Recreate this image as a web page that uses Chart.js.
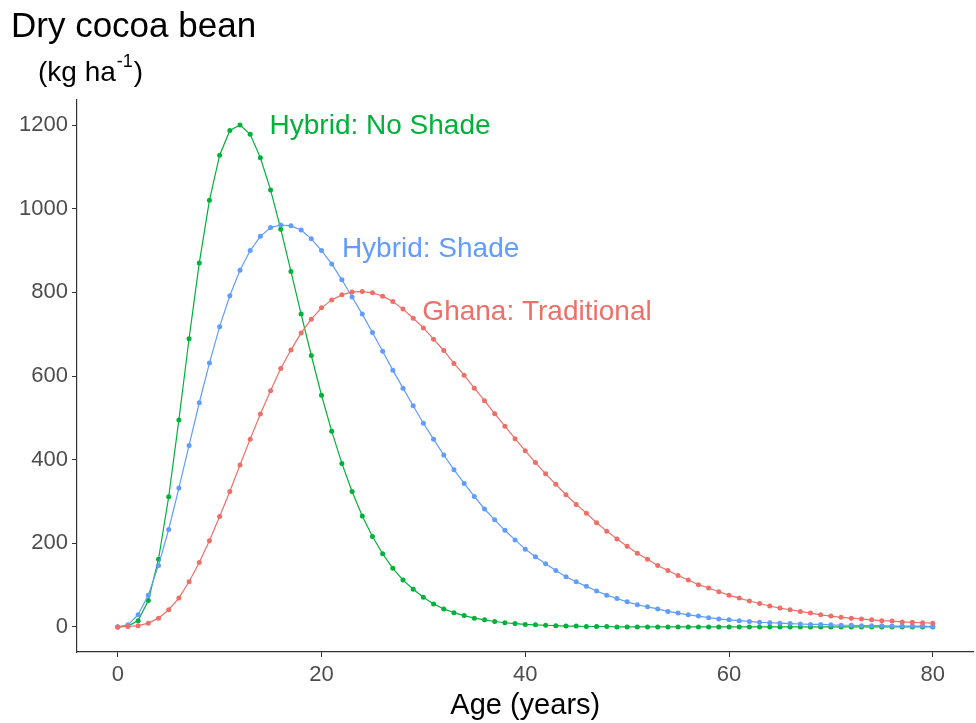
<!DOCTYPE html>
<html>
<head>
<meta charset="utf-8">
<script src="https://cdn.jsdelivr.net/npm/chart.js@4.4.0/dist/chart.umd.min.js"></script>
<style>
  html, body { margin: 0; padding: 0; background: #fff; }
  #wrap { width: 976px; height: 723px; position: relative; }
</style>
</head>
<body>
<div id="wrap"><canvas id="cocoaChrt"></canvas></div>
<script>
(function(){

// ---- age in years (x)
const ageYears = [0,1,2,3,4,5,6,7,8,9,10,11,12,13,14,15,16,17,18,19,20,
  21,22,23,24,25,26,27,28,29,30,31,32,33,34,35,36,37,38,39,40,
  41,42,43,44,45,46,47,48,49,50,51,52,53,54,55,56,57,58,59,60,
  61,62,63,64,65,66,67,68,69,70,71,72,73,74,75,76,77,78,79,80];

// ---- dry cocoa bean yield (kg/ha)
const hybridNoShade = [0,2,15,63,162,311,495,689,870,1020,1128,1187,1200,1178,1122,1045,951,850,748,649,554,
  468,391,324,265,216,175,140,112,90,71,55,43,34,27,21,17,13,10,8,6,
  5,4,3,2,2,1,1,1,0,0,0,0,0,0,0,0,0,0,0,0,
  0,0,0,0,0,0,0,0,0,0,0,0,0,0,0,0,0,0,0,0];

const hybridShade = [0,5,29,76,147,233,332,434,536,631,718,792,853,900,934,955,961,959,949,928,900,
  868,830,789,748,704,659,614,571,529,487,449,411,376,343,312,282,256,231,208,186,
  168,151,135,120,108,97,86,76,68,60,53,48,43,37,33,29,26,22,19,17,
  15,13,11,10,9,8,7,6,6,5,4,4,3,3,3,2,2,2,2,1];

const ghanaTraditional = [0,1,3,9,21,41,69,108,154,206,264,324,387,449,509,565,618,662,703,736,763,
  782,794,801,802,799,791,778,760,738,715,688,661,630,602,571,541,510,480,450,421,
  393,366,341,316,293,272,249,229,210,193,176,162,147,135,123,112,101,93,84,76,
  69,62,56,50,45,41,37,33,29,26,23,21,19,17,15,14,12,11,10,9];

const xTicks = [0,20,40,60,80];
const yTicks = [0,200,400,600,800,1000,1200];

const colGreen = "#00B13A";
const colBlue = "#619CFF";
const colRed = "#EE6F68";

const fontSans = "'Liberation Sans', Arial, sans-serif";

function toPts(arr){
  return arr.map((v, i) => ({ x: ageYears[i], y: v }));
}

function serie(label, arr, col){
  return {
    label: label,
    data: toPts(arr),
    borderColor: col,
    backgroundColor: col,
    borderWidth: 1.2,
    pointRadius: 2.5,
    pointBorderWidth: 0,
    pointHoverRadius: 2.5,
    tension: 0
  };
}

//---- labels on the curves + title in the top left corner
const textPlugin = {
  id: "textos",
  afterDraw(chart){
    const c = chart.ctx;
    const sx = chart.scales.x, sy = chart.scales.y;
    c.save();
    c.textBaseline = "middle";
    c.textAlign = "left";

    c.font = "28px " + fontSans;
    c.fillStyle = colGreen;
    c.fillText("Hybrid: No Shade", sx.getPixelForValue(14.9), sy.getPixelForValue(1198));
    c.fillStyle = colBlue;
    c.fillText("Hybrid: Shade", sx.getPixelForValue(22.0), sy.getPixelForValue(903));
    c.fillStyle = colRed;
    c.fillText("Ghana: Traditional", sx.getPixelForValue(29.9), sy.getPixelForValue(752));

    c.fillStyle = "#000";
    c.font = "35px " + fontSans;
    c.fillText("Dry cocoa bean", 11, 27);

    c.font = "28px " + fontSans;
    let xx = 38;
    c.fillText("(kg ha", xx, 73);
    xx += c.measureText("(kg ha").width;
    c.font = "18px " + fontSans;
    c.fillText("-1", xx + 1, 62);
    xx += c.measureText("-1").width + 2;
    c.font = "28px " + fontSans;
    c.fillText(")", xx, 73);
    c.restore();
  }
};

const ctx = document.querySelector("#cocoaChrt");

let myChart = new Chart(ctx, {
  type: "line",
  data: {
    datasets: [
      serie("Ghana: Traditional", ghanaTraditional, colRed),
      serie("Hybrid: Shade", hybridShade, colBlue),
      serie("Hybrid: No Shade", hybridNoShade, colGreen)
    ]
  },
  options: {
    responsive: true,
    maintainAspectRatio: false,
    animation: false,
    layout: { padding: { left: 0, right: 1, top: 100, bottom: 0 } },
    plugins: {
      legend: { display: false },
      tooltip: { enabled: false }
    },
    scales: {
      x: {
        type: "linear",
        min: -4,
        max: 84,
        afterBuildTicks: (ax) => { ax.ticks = xTicks.map(v => ({ value: v })); },
        afterFit: (ax) => { ax.height = 71; },
        grid: { drawOnChartArea: false, drawTicks: true, tickLength: 5, color: "#333", lineWidth: 1 },
        border: { display: true, color: "#333", width: 1.2 },
        ticks: { color: "#4d4d4d", font: { family: fontSans, size: 22 }, padding: 5, maxRotation: 0,
          callback: (v) => String(v) },
        title: { display: true, text: "Age (years)", color: "#000", font: { family: fontSans, size: 29 }, padding: { top: 0, bottom: 0 } }
      },
      y: {
        min: -60,
        max: 1260,
        afterBuildTicks: (ax) => { ax.ticks = yTicks.map(v => ({ value: v })); },
        afterFit: (ax) => { ax.width = 77; },
        grid: { drawOnChartArea: false, drawTicks: true, tickLength: 5, color: "#333", lineWidth: 1 },
        border: { display: true, color: "#333", width: 1.2 },
        ticks: { color: "#4d4d4d", font: { family: fontSans, size: 22 }, padding: 4,
          callback: (v) => String(v) }
      }
    }
  },
  plugins: [textPlugin]
});

})();
</script>
</body>
</html>
